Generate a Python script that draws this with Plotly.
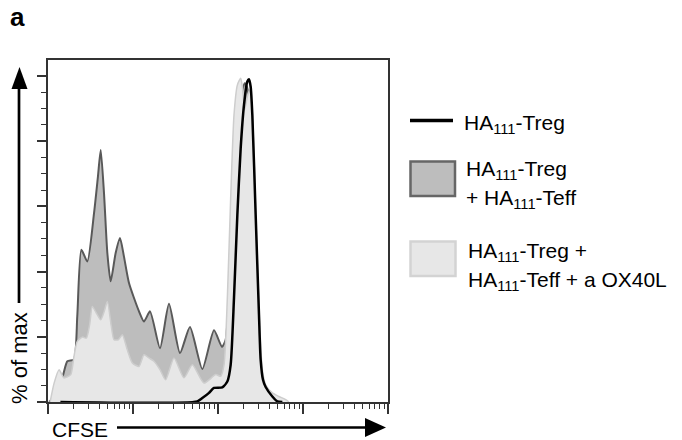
import plotly.graph_objects as go

# CFSE histograms, % of max
dark_x = [10.3, 11.8, 13.5, 15.1, 16.9, 20.2, 22.1, 24.7, 29.0, 34.8, 38.7, 41.7, 45.6, 49.9,
          54.6, 62.5, 70.3, 78.3, 89.7, 117.7, 134.6, 158.5, 207.8, 265, 357, 468, 654, 897,
          1114, 1231, 1346, 1475, 1614, 1766, 1933, 2059, 2190, 2358, 2535, 2774, 3035, 3322, 3805]
dark_y = [0, 1.7, 4.8, 8.4, 12.5, 13.0, 26.3, 46.7, 43.1, 57.9, 69.2, 77.3, 64.0, 45.7,
          37.0, 45.7, 50.3, 44.6, 36.5, 27.8, 24.7, 27.8, 16.5, 30.1, 15.0, 23.0, 10.1, 22.0,
          16.9, 19.1, 33.4, 56.9, 79.4, 90.6, 95.7, 97.8, 96.7, 90.6, 72.2, 41.6, 16.0, 4.8, 0]

light_x = [10.6, 11.8, 13.5, 15.4, 18.5, 20.2, 22.1, 25.4, 28.3, 30.9, 33.2, 37.0, 41.7, 45.6,
           49.9, 55.6, 59.8, 67.2, 74.9, 85.7, 98.2, 117.7, 134.6, 154, 176.6, 207.8, 242, 303.5,
           398, 499, 684, 939, 1075, 1177, 1288, 1409, 1542, 1689, 1848, 1933, 2059, 2213, 2358,
           2535, 2774, 3035, 3322, 3637, 4358, 5219, 6252, 6843]
light_y = [0, 5.8, 9.9, 7.4, 8.4, 14.0, 18.6, 19.9, 19.6, 23.7, 29.3, 27.3, 25.2, 27.6,
           30.8, 23.2, 19.1, 19.1, 20.6, 16.0, 12.0, 10.9, 14.5, 13.5, 12.5, 9.9, 6.8, 13.5,
           7.4, 11.4, 5.8, 8.4, 7.9, 11.4, 31.9, 62.5, 88.0, 97.2, 99.3, 96.7, 89.6, 93.7, 95.7,
           88.6, 58.9, 28.8, 9.9, 5.3, 2.8, 1.7, 0.7, 0]

treg_x = [14, 571, 654, 784, 897, 1125, 1288, 1409, 1542, 1689, 1848, 2022, 2213, 2316,
          2423, 2535, 2774, 3035, 3175, 3383, 3637, 4358, 4988, 5715]
treg_y = [0, 0.2, 1.2, 2.8, 4.3, 4.5, 6.3, 11.4, 31.9, 57.4, 77.8, 91.1, 98.3, 99.0,
          96.7, 88.0, 57.4, 26.8, 13.0, 6.8, 4.6, 1.7, 0.2, 0]

x_major = [10, 100, 1000, 10000, 100000]
x_minor = [k * 10 ** d for d in range(1, 5) for k in range(2, 10)]

FONT = "Liberation Sans, Arial, sans-serif"
OFF = 8  # the page body adds an 8px margin, so work in page pixels and shift back
W, H = 682 - OFF, 440 - OFF
L, R, T, B = 48, 388, 60, 402   # plot frame in page pixels


def pp(x, y):
    # page pixel position -> paper coords
    return (x - L) / (R - L), (B - y) / (B - T)


fig = go.Figure()
fig.add_trace(go.Scatter(x=dark_x, y=dark_y, mode="lines", fill="tozeroy",
                         fillcolor="#bdbdbd", line=dict(color="#595959", width=2, shape="spline", smoothing=0.6)))
fig.add_trace(go.Scatter(x=light_x, y=light_y, mode="lines", fill="tozeroy",
                         fillcolor="#e7e7e7", line=dict(color="#cdcdcd", width=1.5, shape="spline", smoothing=0.6)))
fig.add_trace(go.Scatter(x=treg_x, y=treg_y, mode="lines",
                         line=dict(color="black", width=2.5, shape="spline", smoothing=0.6)))

axis_common = dict(showline=True, linecolor="#333", linewidth=1.5, mirror=True,
                   showgrid=False, zeroline=False, showticklabels=False,
                   ticks="outside", tickcolor="#333", tickwidth=1.5)
fig.update_xaxes(type="log", range=[1, 5], tickmode="array", tickvals=x_major, ticklen=10,
                 minor=dict(tickmode="array", tickvals=x_minor, ticks="outside", ticklen=5,
                            tickcolor="#333", tickwidth=1.2), **axis_common)
fig.update_yaxes(range=[0, 104.9], tick0=0, dtick=20, ticklen=9,
                 minor=dict(tick0=0, dtick=5, ticks="outside", ticklen=5, tickcolor="#333", tickwidth=1.2),
                 **axis_common)

shapes = []


def line(xa, ya, xb, yb, color="black", width=2.7):
    x0, y0 = pp(xa, ya); x1, y1 = pp(xb, yb)
    shapes.append(dict(type="line", xref="paper", yref="paper", x0=x0, y0=y0, x1=x1, y1=y1,
                       line=dict(color=color, width=width)))


def tri(pts):
    p = [pp(*q) for q in pts]
    path = "M{},{} L{},{} L{},{} Z".format(*p[0], *p[1], *p[2])
    shapes.append(dict(type="path", xref="paper", yref="paper", path=path,
                       fillcolor="black", line=dict(width=0)))


def box(xa, ya, xb, yb, fill, edge):
    x0, y0 = pp(xa, ya); x1, y1 = pp(xb, yb)
    shapes.append(dict(type="rect", xref="paper", yref="paper", x0=x0, y0=y0, x1=x1, y1=y1,
                       fillcolor=fill, line=dict(color=edge, width=2.5)))


# axis arrows
line(19, 303, 19, 86)
tri([(11.5, 89), (27.5, 89), (19.5, 67)])
line(117, 427.5, 368, 427.5)
tri([(365, 418), (365, 437), (386, 427.5)])
# legend samples
line(410, 120.5, 453, 120.5, width=3.5)
box(410.5, 161.5, 455, 196, "#bdbdbd", "#666")
box(410.5, 241.5, 455.5, 276, "#e7e7e7", "#d3d3d3")

annotations = []


def label(text, x, y, size=21, xanchor="left", angle=0, bold=False):
    ax, ay = pp(x, y)
    if bold:
        text = f"<b>{text}</b>"
    annotations.append(dict(text=text, xref="paper", yref="paper", x=ax, y=ay, showarrow=False,
                            xanchor=xanchor, yanchor="middle", textangle=angle,
                            font=dict(family=FONT, size=size, color="black")))


label("a", 17.5, 17, size=26, xanchor="center", bold=True)
label("% of max", 19, 358, size=22, xanchor="center", angle=-90)
label("CFSE", 50, 429, size=21)
label("HA<sub>111</sub>-Treg", 462, 124)
label("HA<sub>111</sub>-Treg", 464, 170)
label("+ HA<sub>111</sub>-Teff", 464, 199)
label("HA<sub>111</sub>-Treg +", 466, 252)
label("HA<sub>111</sub>-Teff + a OX40L", 466, 281)

fig.update_layout(width=W, height=H,
                  margin=dict(l=L - OFF, r=W - (R - OFF), t=T - OFF, b=H - (B - OFF)),
                  plot_bgcolor="white", paper_bgcolor="white", showlegend=False,
                  shapes=shapes, annotations=annotations)

fig.write_html("out.html")
